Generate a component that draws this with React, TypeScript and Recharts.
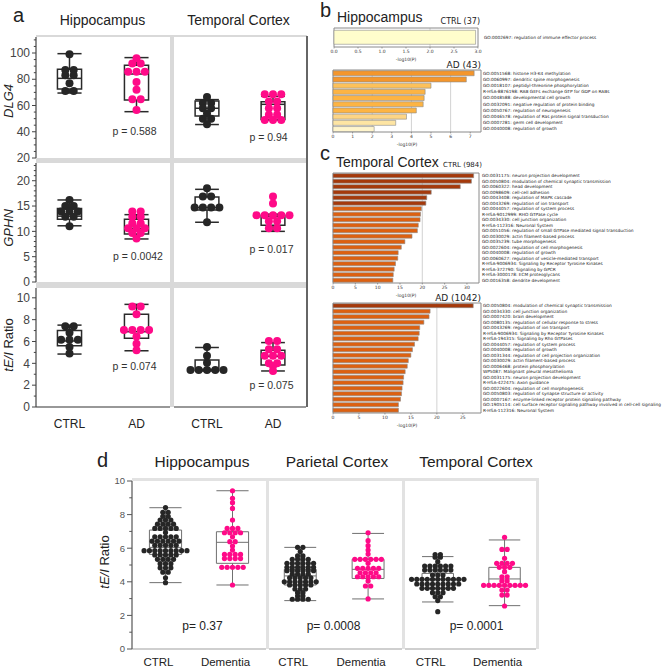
import React from 'react';
import {
  ComposedChart, Scatter, XAxis, YAxis, ReferenceArea, ReferenceLine,
  BarChart, Bar, Cell, CartesianGrid, Label,
} from 'recharts';

const SANS = '"Liberation Sans", Arial, Helvetica, sans-serif';
const MPL = '"DejaVu Sans", "Liberation Sans", sans-serif';
const PINK = '#ff0a88';
const BLACK = '#262626';

// ---------- panel a: sample values + box stats [low whisker, q1, median, q3, high whisker]
const dlg4HipCtrl = [99, 87, 87, 83, 83, 77, 71, 71];
const dlg4HipCtrlBox = [69.5, 72.5, 80.7, 87.6, 99.5];
const dlg4HipAd = [96, 92, 92, 85.8, 85.8, 85.8, 78, 72, 64.7, 64.7, 56.5];
const dlg4HipAdBox = [55.3, 64.2, 84, 90.6, 96.5];
const dlg4TcCtrl = [66.5, 62, 62, 58, 58, 54, 50, 50, 45.7];
const dlg4TcCtrlBox = [45.5, 52, 57.9, 63.5, 64.5];
const dlg4TcAd = [68.5, 68.5, 68.5, 63, 63, 58, 58, 53, 53, 49, 49, 49];
const dlg4TcAdBox = [49, 49.3, 60.9, 62.9, 67];

const gphnHipCtrl = [16.2, 15, 15, 13.9, 13.9, 13.9, 12.9, 12.9, 11];
const gphnHipCtrlBox = [11.1, 12.4, 13.0, 14.5, 16.2];
const gphnHipAd = [13.9, 13.9, 12.9, 12.9, 11.6, 11.6, 10.6, 10.6, 10.6, 9.7, 9.7, 8.6];
const gphnHipAdBox = [8.5, 9.5, 10.6, 12.4, 13.3];
const gphnTcCtrl = [18.5, 16.9, 16.9, 14.7, 14.7, 14.7, 14.7, 11.8];
const gphnTcCtrlBox = [11.8, 14.2, 14.7, 16.8, 18.3];
const gphnTcAd = [16.9, 15.5, 13.2, 13.2, 13.2, 13.2, 13.2, 12.0, 12.0, 10.6, 10.6];
const gphnTcAdBox = [10.0, 11.2, 12.9, 13.2, 13.4];

const eiHipCtrl = [7.4, 7.4, 6.8, 6.15, 6.15, 6.15, 5.5, 4.9];
const eiHipCtrlBox = [4.85, 5.6, 6.05, 7.0, 7.5];
const eiHipAd = [9.2, 9.2, 8.5, 7.05, 7.05, 7.05, 7.05, 6.45, 5.8, 5.2];
const eiHipAdBox = [5.15, 6.3, 6.9, 8.5, 9.4];
const eiTcCtrl = [5.5, 4.7, 4.05, 3.4, 3.4, 3.4, 3.4, 3.4];
const eiTcCtrlBox = [3.3, 3.35, 3.45, 4.3, 5.45];
const eiTcAd = [6.05, 6.05, 5.3, 5.3, 4.7, 4.7, 4.7, 4.0, 4.0, 3.75, 3.3];
const eiTcAdBox = [3.3, 3.85, 4.65, 5.2, 5.9];

const aGroups = ['CTRL', 'AD'];

// ---------- panel d
const dHipCtrl = [
  8.41, 8.14, 8.14, 7.9, 7.9, 7.68, 7.68, 7.68, 7.43, 7.43, 7.43, 7.43,
  7.18, 7.18, 7.18, 7.18, 7.18, 6.93, 6.68, 6.68, 6.68, 6.68, 6.68,
  6.42, 6.42, 6.42, 6.42, 6.42, 6.42, 6.17, 6.17, 6.17, 6.17, 6.17,
  5.85, 5.85, 5.85, 5.85, 5.85, 5.85, 5.85, 5.85, 5.85,
  5.6, 5.6, 5.6, 5.6, 5.6, 5.34, 5.34, 5.34, 5.34, 5.08, 5.08, 5.08,
  4.83, 4.83, 4.83, 4.57, 4.57, 4.24, 3.95,
];
const dHipCtrlBox = [3.95, 5.63, 6.05, 7.08, 8.41];
const dHipDem = [
  9.42, 8.97, 8.71, 8.37, 7.68, 7.18, 7.18, 7.18, 6.92, 6.92, 6.92, 6.92,
  6.68, 6.39, 6.39, 6.13, 5.89, 5.63, 5.63, 5.63, 5.63, 5.38, 5.38, 5.38, 5.38,
  4.86, 4.86, 4.86, 4.86, 4.86, 3.81,
];
const dHipDemBox = [3.81, 5.1, 6.35, 6.98, 9.42];
const dParCtrl = [
  6.05, 6.05, 5.8, 5.54, 5.54, 5.34, 5.34, 5.34, 5.34,
  5.1, 5.1, 5.1, 5.1, 5.1, 5.1, 4.86, 4.86, 4.86, 4.86, 4.86, 4.86,
  4.66, 4.66, 4.66, 4.66, 4.66, 4.66, 4.45, 4.45, 4.45, 4.45,
  4.24, 4.24, 4.24, 4.24, 4.24, 4.0, 4.0, 4.0, 4.0, 4.0, 4.0, 4.0,
  3.81, 3.81, 3.81, 3.81, 3.81, 3.57, 3.57, 3.57, 3.35, 3.35, 3.15, 3.15,
  2.96, 2.96, 2.96, 2.96,
];
const dParCtrlBox = [2.88, 3.81, 4.35, 4.74, 6.05];
const dParDem = [
  6.92, 6.45, 6.15, 5.89, 5.65, 5.34, 5.34, 5.34, 5.34, 5.34, 5.34, 5.1,
  4.8, 4.8, 4.8, 4.8, 4.8, 4.54, 4.54, 4.54, 4.54, 4.3, 4.3, 4.3, 4.3, 4.3,
  4.05, 3.75, 3.75, 2.98,
];
const dParDemBox = [2.98, 4.2, 4.74, 5.34, 6.88];
const dTcCtrl = [
  5.62, 5.62, 5.46, 5.46, 5.2, 4.94, 4.94, 4.94, 4.94, 4.94, 4.94,
  4.7, 4.7, 4.7, 4.7, 4.7, 4.7, 4.4, 4.4, 4.4,
  4.15, 4.15, 4.15, 4.15, 4.15, 4.15, 4.15, 4.15, 4.15, 4.15, 4.15,
  3.87, 3.87, 3.87, 3.87, 3.87, 3.87, 3.87, 3.87, 3.87,
  3.61, 3.61, 3.61, 3.61, 3.61, 3.61, 3.61, 3.35, 3.35, 3.35, 3.11, 3.11, 2.88, 2.22,
];
const dTcCtrlBox = [2.8, 3.61, 4.15, 4.5, 5.5];
const dTcDem = [
  6.65, 5.93, 5.93, 5.4, 5.1, 5.1, 5.1, 5.1, 4.86, 4.86, 4.86, 4.6, 4.3, 4.3,
  4.05, 4.05, 3.79, 3.79, 3.79, 3.79, 3.79, 3.79, 3.79, 3.79, 3.79,
  3.51, 3.51, 3.21, 3.21, 2.56,
];
const dTcDemBox = [2.58, 3.75, 4.17, 4.86, 6.49];
const dGroups = ['CTRL', 'Dementia'];

// ---------- panels b / c : enrichment terms and -log10(P)
const bCtrlTerms = ['GO:0002697: regulation of immune effector process'];
const bCtrlVals = [2.95];
const bAdTerms = [
  'GO:0051568: histone H3-K4 methylation',
  'GO:0060997: dendritic spine morphogenesis',
  'GO:0018107: peptidyl-threonine phosphorylation',
  'R-HSA-8876198: RAB GEFs exchange GTP for GDP on RABs',
  'GO:0048588: developmental cell growth',
  'GO:0032091: negative regulation of protein binding',
  'GO:0050767: regulation of neurogenesis',
  'GO:0046578: regulation of Ras protein signal transduction',
  'GO:0007281: germ cell development',
  'GO:0040008: regulation of growth',
];
const bAdVals = [7.2, 6.8, 5.0, 4.7, 4.65, 4.6, 4.25, 3.75, 3.2, 2.1];
const cCtrlTerms = [
  'GO:0031175: neuron projection development',
  'GO:0050804: modulation of chemical synaptic transmission',
  'GO:0060322: head development',
  'GO:0098609: cell-cell adhesion',
  'GO:0043408: regulation of MAPK cascade',
  'GO:0043269: regulation of ion transport',
  'GO:0044057: regulation of system process',
  'R-HSA-9012999: RHO GTPase cycle',
  'GO:0034330: cell junction organization',
  'R-HSA-112316: Neuronal System',
  'GO:0051056: regulation of small GTPase mediated signal transduction',
  'GO:0030029: actin filament-based process',
  'GO:0035239: tube morphogenesis',
  'GO:0022604: regulation of cell morphogenesis',
  'GO:0040008: regulation of growth',
  'GO:0060627: regulation of vesicle-mediated transport',
  'R-HSA-9006934: Signaling by Receptor Tyrosine Kinases',
  'R-HSA-372790: Signaling by GPCR',
  'R-HSA-3000178: ECM proteoglycans',
  'GO:0016358: dendrite development',
];
const cCtrlVals = [31.5, 31, 28.5, 22, 21, 20.8, 19.8, 19.6, 19.5, 19.1, 18.9, 17.7, 16.1, 15.3, 14.6, 14.5, 14.0, 13.7, 13.5, 13.4];
const cAdTerms = [
  'GO:0050804: modulation of chemical synaptic transmission',
  'GO:0034330: cell junction organization',
  'GO:0007420: brain development',
  'GO:0080135: regulation of cellular response to stress',
  'GO:0043269: regulation of ion transport',
  'R-HSA-9006934: Signaling by Receptor Tyrosine Kinases',
  'R-HSA-194315: Signaling by Rho GTPases',
  'GO:0044057: regulation of system process',
  'GO:0040008: regulation of growth',
  'GO:0031344: regulation of cell projection organization',
  'GO:0030029: actin filament-based process',
  'GO:0006468: protein phosphorylation',
  'WP5087: Malignant pleural mesothelioma',
  'GO:0031175: neuron projection development',
  'R-HSA-422475: Axon guidance',
  'GO:0022604: regulation of cell morphogenesis',
  'GO:0050803: regulation of synapse structure or activity',
  'GO:0007167: enzyme-linked receptor protein signaling pathway',
  'GO:1905114: cell surface receptor signaling pathway involved in cell-cell signaling',
  'R-HSA-112316: Neuronal System',
];
const cAdVals = [27, 18.7, 18.5, 17.5, 16.7, 16.6, 16.4, 15.7, 15.3, 15.0, 14.5, 14.3, 13.9, 13.6, 13.5, 13.3, 13.2, 13.0, 12.6, 12.6];

// colours for the bars (style only)
const bAdFills = ['#f4962c', '#f4962c', '#fdc15a', '#fdb443', '#fdb443', '#fdb443', '#fdb443', '#fdd585', '#fee5a3', '#fff5cc'];
const DARK_OR = '#a5390b';
const ORANGE = '#dd6010';

const range = (a: number, b: number, s: number) => {
  const out: number[] = [];
  for (let v = a; v <= b + 1e-9; v += s) out.push(Math.round(v * 100) / 100);
  return out;
};

// beeswarm: spread equal values sideways around the group position
const swarm = (vals: number[], pos: number, step: number) => {
  const count = new Map<number, number>();
  vals.forEach(v => count.set(v, (count.get(v) || 0) + 1));
  const seen = new Map<number, number>();
  return vals.map(v => {
    const n = count.get(v)!;
    const i = seen.get(v) || 0;
    seen.set(v, i + 1);
    return { x: pos + (i - (n - 1) / 2) * step, y: v };
  });
};

const yTick = (majors: number[], len: number, fs: number, color: string) => (p: any) => {
  const v = p.payload.value;
  const major = majors.includes(v);
  return (
    <g>
      <line x1={p.x - (major ? len : len * 0.55)} x2={p.x} y1={p.y} y2={p.y} stroke={color} strokeWidth={1} />
      {major && (
        <text x={p.x - len - 2} y={p.y} dy="0.35em" textAnchor="end" fontSize={fs} fill={color} fontFamily={SANS}>
          {v}
        </text>
      )}
    </g>
  );
};

type Group = { vals: number[]; box: number[]; color: string; pos: number };
type BoxStyle = { r: number; step: number; half: number; stroke: string; sw: number };

function BoxCell(props: {
  x0: number; x1: number; y0: number; y1: number;
  domain: number[]; groups: Group[]; st: BoxStyle;
  yAxis?: { width: number; ticks: number[]; majors: number[]; len: number; fs: number; color: string };
  xAxis?: { height: number; labels: string[]; margin: number; fs: number; dx: number; color: string };
}) {
  const { x0, x1, y0, y1, domain, groups, st, yAxis, xAxis } = props;
  const yW = yAxis ? yAxis.width : 0;
  const xH = xAxis ? xAxis.height : 6;
  const line = { stroke: st.stroke, strokeWidth: st.sw };
  return (
    <div style={{ position: 'absolute', left: x0 - yW, top: y0 - 6 }}>
      <ComposedChart
        width={x1 - x0 + yW}
        height={y1 - y0 + 6 + xH}
        margin={{ top: 6, right: 0, bottom: xAxis ? 0 : 6, left: 0 }}
      >
        {xAxis ? (
          <XAxis
            type="number" dataKey="x" domain={[0.5, 2.5]} ticks={groups.map(g => g.pos)} interval={0}
            tickFormatter={(_v: any, i: number) => xAxis.labels[i]}
            height={xAxis.height} tickSize={0} tickMargin={xAxis.margin}
            axisLine={{ stroke: xAxis.color, strokeWidth: 1.2 }}
            tick={{ fontSize: xAxis.fs, fill: '#222', fontFamily: SANS, dx: xAxis.dx }}
          />
        ) : (
          <XAxis type="number" dataKey="x" domain={[0.5, 2.5]} hide />
        )}
        {yAxis ? (
          <YAxis
            type="number" dataKey="y" domain={domain} ticks={yAxis.ticks} interval={0}
            width={yAxis.width} tickSize={0} tickMargin={0} tickLine={false}
            axisLine={{ stroke: yAxis.color, strokeWidth: 1.2 }}
            tick={yTick(yAxis.majors, yAxis.len, yAxis.fs, yAxis.color)}
          />
        ) : (
          <YAxis type="number" dataKey="y" domain={domain} hide />
        )}
        {groups.map((g, k) => [
          <ReferenceLine key={`wl${k}`} segment={[{ x: g.pos, y: g.box[0] }, { x: g.pos, y: g.box[1] }]} {...line} />,
          <ReferenceLine key={`wh${k}`} segment={[{ x: g.pos, y: g.box[3] }, { x: g.pos, y: g.box[4] }]} {...line} />,
          <ReferenceLine key={`cl${k}`} segment={[{ x: g.pos - st.half, y: g.box[0] }, { x: g.pos + st.half, y: g.box[0] }]} {...line} />,
          <ReferenceLine key={`ch${k}`} segment={[{ x: g.pos - st.half, y: g.box[4] }, { x: g.pos + st.half, y: g.box[4] }]} {...line} />,
          <ReferenceArea key={`bx${k}`} x1={g.pos - st.half} x2={g.pos + st.half} y1={g.box[1]} y2={g.box[3]} fill="none" {...line} />,
          <ReferenceLine key={`md${k}`} segment={[{ x: g.pos - st.half, y: g.box[2] }, { x: g.pos + st.half, y: g.box[2] }]} {...line} />,
        ])}
        {groups.map((g, k) => (
          <Scatter
            key={`s${k}`}
            data={swarm(g.vals, g.pos, st.step)}
            fill={g.color}
            isAnimationActive={false}
            shape={(p: any) => <circle cx={p.cx} cy={p.cy} r={st.r} fill={g.color} />}
          />
        ))}
      </ComposedChart>
    </div>
  );
}

const goTick = (p: any) => (
  <text x={p.x} y={p.y} dy="0.35em" fontSize={4.3} fill="#222" fontFamily={MPL}>
    {p.payload.value}
  </text>
);

function GoBars(props: {
  x0: number; plotW: number; y0: number; plotH: number; max: number;
  ticks: number[]; fmt: (v: number) => string; terms: string[]; vals: number[];
  fills: string[]; grid: number[]; labelGap: number;
}) {
  const { x0, plotW, y0, plotH, max, ticks, fmt, terms, vals, fills, grid, labelGap } = props;
  const data = terms.map((name, i) => ({ name, value: vals[i] }));
  const padL = 8;
  return (
    <div style={{ position: 'absolute', left: x0 - padL, top: y0 - 2 }}>
      <BarChart
        layout="vertical" width={669 - x0 + padL} height={plotH + 2 + 16} data={data}
        margin={{ top: 2, right: 0, bottom: 0, left: padL }} barCategoryGap="12%"
      >
        <CartesianGrid horizontal={false} verticalValues={grid} stroke="#d2d2d2" strokeWidth={1} />
        <XAxis
          type="number" domain={[0, max]} ticks={ticks} interval={0} tickFormatter={fmt}
          height={16} axisLine={false} tickSize={1.5} tickMargin={1}
          tickLine={{ stroke: '#555', strokeWidth: 0.5 }}
          tick={{ fontSize: 4.5, fill: '#333', fontFamily: MPL }}
        >
          <Label value="-log10(P)" position="insideBottom" offset={2} style={{ fontSize: 4.5, fill: '#333', fontFamily: MPL }} />
        </XAxis>
        <YAxis
          type="category" dataKey="name" orientation="right" width={669 - x0 - plotW}
          axisLine={false} tickLine={false} tickSize={0} tickMargin={labelGap} interval={0} tick={goTick}
        />
        <Bar dataKey="value" isAnimationActive={false} stroke="#8a8a8a" strokeWidth={0.6}>
          {data.map((_d, i) => <Cell key={i} fill={fills[i]} />)}
        </Bar>
        <ReferenceArea x1={0} x2={max} fill="none" stroke="#8a8a8a" strokeWidth={1} ifOverflow="visible" />
      </BarChart>
    </div>
  );
}

// layout of panel a / d cells
const A_COLS = [{ x0: 36, x1: 170 }, { x0: 174, x1: 306 }];
const A_ROWS = [{ y0: 37, y1: 158 }, { y0: 163, y1: 282 }, { y0: 288, y1: 407 }];
const D_COLS = [{ x0: 132, x1: 266 }, { x0: 269, x1: 402 }, { x0: 405, x1: 536 }];
const D_ROW = { y0: 481, y1: 649 };

const aStyle: BoxStyle = { r: 4, step: 0.125, half: 0.18, stroke: '#2a2a2a', sw: 1.5 };
const dStyle: BoxStyle = { r: 2.6, step: 0.08, half: 0.24, stroke: '#707070', sw: 1 };

export default function App() {
  const aRows = [
    {
      domain: [20, 112.2], ticks: range(20, 110, 5), majors: [20, 40, 60, 80, 100],
      cells: [[dlg4HipCtrl, dlg4HipCtrlBox, dlg4HipAd, dlg4HipAdBox], [dlg4TcCtrl, dlg4TcCtrlBox, dlg4TcAd, dlg4TcAdBox]],
    },
    {
      domain: [0, 23.5], ticks: range(0, 23, 1), majors: [0, 5, 10, 15, 20],
      cells: [[gphnHipCtrl, gphnHipCtrlBox, gphnHipAd, gphnHipAdBox], [gphnTcCtrl, gphnTcCtrlBox, gphnTcAd, gphnTcAdBox]],
    },
    {
      domain: [0, 10.9], ticks: range(0, 10, 1), majors: [0, 2, 4, 6, 8, 10],
      cells: [[eiHipCtrl, eiHipCtrlBox, eiHipAd, eiHipAdBox], [eiTcCtrl, eiTcCtrlBox, eiTcAd, eiTcAdBox]],
    },
  ];
  const dCells = [
    [dHipCtrl, dHipCtrlBox, dHipDem, dHipDemBox, 1, 2],
    [dParCtrl, dParCtrlBox, dParDem, dParDemBox, 0.97, 1.99],
    [dTcCtrl, dTcCtrlBox, dTcDem, dTcDemBox, 1, 2.02],
  ] as const;

  const txt = (x: number, y: number, s: string, fs: number, anchor = 'middle', extra: any = {}) => (
    <text x={x} y={y} fontSize={fs} textAnchor={anchor} fill="#222" fontFamily={SANS} {...extra}>{s}</text>
  );

  return (
    <div style={{ position: 'absolute', left: 0, top: 0, width: 669, height: 671, background: '#fff', overflow: 'hidden' }}>
      {/* panel a frame */}
      <div style={{ position: 'absolute', left: 36, top: 35, width: 271, height: 372, background: '#d9d9d9' }} />
      {A_COLS.map((c, i) => A_ROWS.map((r, j) => (
        <div key={`aw${i}${j}`} style={{ position: 'absolute', left: c.x0, top: r.y0, width: c.x1 - c.x0, height: r.y1 - r.y0, background: '#fff' }} />
      )))}
      <div style={{ position: 'absolute', left: 306, top: 36, width: 1.5, height: 371, background: '#666' }} />

      {/* panel d frame */}
      <div style={{ position: 'absolute', left: 132, top: 478, width: 407, height: 171, background: '#e2e2e2' }} />
      {D_COLS.map((c, i) => (
        <div key={`dw${i}`} style={{ position: 'absolute', left: c.x0, top: D_ROW.y0, width: c.x1 - c.x0, height: D_ROW.y1 - D_ROW.y0, background: '#fff' }} />
      ))}

      {aRows.map((row, j) => A_COLS.map((c, i) => {
        const cell = row.cells[i];
        return (
          <BoxCell
            key={`a${j}${i}`}
            x0={c.x0} x1={c.x1} y0={A_ROWS[j].y0} y1={A_ROWS[j].y1}
            domain={row.domain} st={aStyle}
            groups={[
              { vals: cell[0], box: cell[1], color: BLACK, pos: 1 },
              { vals: cell[2], box: cell[3], color: PINK, pos: 2 },
            ]}
            yAxis={i === 0 ? { width: 36, ticks: row.ticks, majors: row.majors, len: 4, fs: 12, color: '#444' } : undefined}
            xAxis={j === 2 ? { height: 30, labels: aGroups, margin: 12, fs: 12, dx: 0, color: '#333' } : undefined}
          />
        );
      }))}

      {dCells.map((cell, i) => (
        <BoxCell
          key={`d${i}`}
          x0={D_COLS[i].x0} x1={D_COLS[i].x1} y0={D_ROW.y0} y1={D_ROW.y1}
          domain={[0, 10]} st={dStyle}
          groups={[
            { vals: cell[0] as number[], box: cell[1] as number[], color: BLACK, pos: cell[4] as number },
            { vals: cell[2] as number[], box: cell[3] as number[], color: PINK, pos: cell[5] as number },
          ]}
          yAxis={i === 0 ? { width: 40, ticks: range(0, 10, 1), majors: [0, 2, 4, 6, 8, 10], len: 5, fs: 9.5, color: '#555' } : undefined}
          xAxis={{ height: 22, labels: dGroups, margin: 9, fs: 11.5, dx: -7, color: '#a0a0a0' }}
        />
      ))}

      {/* panels b and c */}
      <GoBars x0={334} plotW={144} y0={28} plotH={19} max={3.0} ticks={range(0, 3, 0.5)} fmt={v => v.toFixed(1)}
        terms={bCtrlTerms} vals={bCtrlVals} fills={['#fffdcc']} grid={[2]} labelGap={6} />
      <GoBars x0={333} plotW={148} y0={70} plotH={62} max={7.55} ticks={range(0, 7, 1)} fmt={v => String(v)}
        terms={bAdTerms} vals={bAdVals} fills={bAdFills} grid={[2, 4, 6]} labelGap={2} />
      <GoBars x0={333} plotW={146} y0={173} plotH={110} max={32.7} ticks={range(0, 30, 5)} fmt={v => String(v)}
        terms={cCtrlTerms} vals={cCtrlVals} fills={cCtrlVals.map((_v, i) => (i < 6 ? DARK_OR : ORANGE))} grid={[20]} labelGap={3} />
      <GoBars x0={333} plotW={148} y0={303} plotH={110} max={28.5} ticks={range(0, 25, 5)} fmt={v => String(v)}
        terms={cAdTerms} vals={cAdVals} fills={cAdVals.map((_v, i) => (i < 1 ? DARK_OR : ORANGE))} grid={[20]} labelGap={2} />

      <svg width={669} height={671} style={{ position: 'absolute', left: 0, top: 0, pointerEvents: 'none' }}>
        {txt(13, 22, 'a', 20, 'start')}
        {txt(102.5, 25, 'Hippocampus', 14)}
        {txt(238.5, 25, 'Temporal Cortex', 14)}
        <text transform="translate(13,101) rotate(-90)" fontSize={13} textAnchor="middle" fontStyle="italic" fill="#222" fontFamily={SANS}>DLG4</text>
        <text transform="translate(13,228) rotate(-90)" fontSize={13} textAnchor="middle" fontStyle="italic" fill="#222" fontFamily={SANS}>GPHN</text>
        <text transform="translate(13,345) rotate(-90)" fontSize={13} textAnchor="middle" fill="#222" fontFamily={SANS}>
          <tspan fontStyle="italic">tE/I</tspan> Ratio
        </text>
        {txt(134.5, 135, 'p = 0.588', 10.5, 'middle', { fill: '#333' })}
        {txt(268.5, 141, 'p = 0.94', 10.5, 'middle', { fill: '#333' })}
        {txt(138, 260, 'p = 0.0042', 10.5, 'middle', { fill: '#333' })}
        {txt(271.5, 253, 'p = 0.017', 10.5, 'middle', { fill: '#333' })}
        {txt(134.5, 370, 'p = 0.074', 10.5, 'middle', { fill: '#333' })}
        {txt(271.5, 389, 'p = 0.075', 10.5, 'middle', { fill: '#333' })}

        {txt(320, 17, 'b', 20, 'start')}
        {txt(337, 22, 'Hippocampus', 14, 'start')}
        {txt(480, 24, 'CTRL (37)', 8, 'end', { fontFamily: MPL })}
        {txt(481, 68, 'AD (43)', 9, 'end', { fontFamily: MPL })}
        {txt(320, 160, 'c', 20, 'start')}
        {txt(336, 167, 'Temporal Cortex', 14, 'start')}
        {txt(482, 167, 'CTRL (984)', 7, 'end', { fontFamily: MPL })}
        {txt(481, 301, 'AD (1042)', 9, 'end', { fontFamily: MPL })}

        {txt(97, 467, 'd', 20, 'start')}
        {txt(202, 467, 'Hippocampus', 15.5)}
        {txt(337, 467, 'Parietal Cortex', 15.5)}
        {txt(476, 467, 'Temporal Cortex', 15.5)}
        <text transform="translate(109,562) rotate(-90)" fontSize={13} textAnchor="middle" fill="#222" fontFamily={SANS}>
          <tspan fontStyle="italic">tE/I</tspan> Ratio
        </text>
        {txt(202.5, 630, 'p= 0.37', 12)}
        {txt(333.5, 630, 'p= 0.0008', 12)}
        {txt(476.5, 630, 'p= 0.0001', 12)}
      </svg>
    </div>
  );
}
